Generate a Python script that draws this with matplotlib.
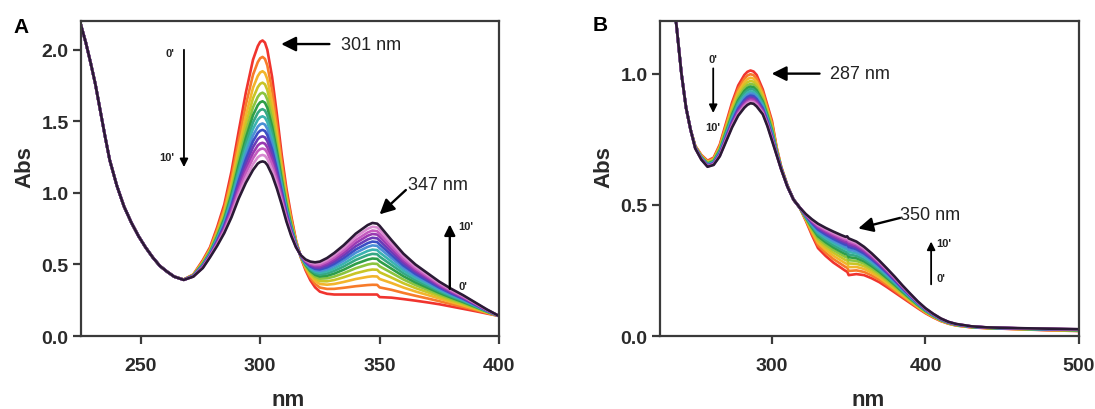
import numpy as np
import matplotlib
matplotlib.use("Agg")
import matplotlib.pyplot as plt
from matplotlib.ticker import FormatStrFormatter

plt.rcParams["font.family"] = ["Liberation Sans", "DejaVu Sans"]

# ---------------- Panel A: 225-400 nm ----------------
wl_a = [225, 227, 229, 231, 233, 235, 237, 240, 243, 246, 249, 252, 255, 258,
        261, 264, 268, 272, 276, 279, 282, 285, 288, 291, 294, 297, 299, 300,
        301, 302, 303, 305, 307, 309, 311, 313, 315, 317, 319, 321, 323, 325,
        328, 331, 335, 340, 345, 347, 349, 350, 355, 360, 365, 370, 375, 380,
        385, 390, 395, 400]
# first scan (0 min)
abs_a_0min = [2.17, 2.05, 1.91, 1.76, 1.58, 1.40, 1.23, 1.05, 0.905, 0.795,
              0.70, 0.62, 0.55, 0.49, 0.45, 0.415, 0.395, 0.43, 0.53, 0.62,
              0.76, 0.92, 1.15, 1.43, 1.70, 1.93, 2.025, 2.055, 2.065, 2.05,
              2.00, 1.81, 1.55, 1.27, 1.03, 0.84, 0.67, 0.55, 0.46, 0.39, 0.34,
              0.31, 0.295, 0.29, 0.29, 0.29, 0.29, 0.29, 0.29, 0.272, 0.268,
              0.258, 0.247, 0.235, 0.222, 0.206, 0.19, 0.174, 0.157, 0.14]
# last scan (10 min)
abs_a_10min = [2.17, 2.05, 1.91, 1.76, 1.58, 1.40, 1.23, 1.05, 0.905, 0.795,
               0.70, 0.62, 0.55, 0.49, 0.45, 0.415, 0.392, 0.415, 0.475, 0.55,
               0.63, 0.72, 0.83, 0.96, 1.07, 1.16, 1.205, 1.216, 1.22, 1.215,
               1.195, 1.125, 1.03, 0.92, 0.80, 0.70, 0.62, 0.565, 0.535, 0.52,
               0.515, 0.52, 0.545, 0.58, 0.635, 0.715, 0.775, 0.79, 0.785, 0.77,
               0.67, 0.575, 0.50, 0.44, 0.38, 0.33, 0.285, 0.235, 0.185, 0.14]
# absorbance at 301 nm of every scan, 0 min -> 10 min
peak_a_301 = [2.065, 1.95, 1.85, 1.77, 1.70, 1.64, 1.585, 1.535, 1.485, 1.44,
              1.395, 1.35, 1.31, 1.265, 1.22]

# ---------------- Panel B: 227-500 nm ----------------
wl_b = [232, 235, 238, 241, 244, 247, 250, 254, 258, 262, 266, 270, 274, 278,
        282, 284, 286, 288, 290, 294, 297, 300, 303, 306, 310, 314, 318, 322,
        326, 330, 335, 340, 345, 348, 349, 350, 355, 360, 365, 370, 375, 380,
        385, 390, 395, 400, 405, 410, 415, 420, 430, 440, 460, 480, 500]
abs_b_0min = [1.50, 1.33, 1.17, 1.00, 0.87, 0.785, 0.725, 0.69, 0.668, 0.68,
              0.73, 0.81, 0.89, 0.955, 0.995, 1.007, 1.012, 1.008, 0.995, 0.94,
              0.88, 0.82, 0.72, 0.645, 0.575, 0.52, 0.49, 0.44, 0.385, 0.335,
              0.305, 0.28, 0.26, 0.248, 0.245, 0.232, 0.236, 0.232, 0.22,
              0.205, 0.186, 0.166, 0.146, 0.126, 0.106, 0.087, 0.071, 0.057,
              0.047, 0.04, 0.033, 0.03, 0.026, 0.022, 0.019]
abs_b_10min = [1.50, 1.33, 1.17, 1.00, 0.87, 0.785, 0.715, 0.672, 0.645, 0.652,
               0.685, 0.74, 0.795, 0.84, 0.87, 0.881, 0.887, 0.885, 0.875,
               0.845, 0.80, 0.745, 0.69, 0.635, 0.57, 0.52, 0.49, 0.465, 0.445,
               0.428, 0.412, 0.398, 0.385, 0.378, 0.38, 0.372, 0.36, 0.34,
               0.315, 0.287, 0.257, 0.226, 0.193, 0.162, 0.132, 0.106, 0.085,
               0.067, 0.054, 0.046, 0.037, 0.033, 0.03, 0.028, 0.026]
# absorbance at 287 nm of every scan, 0 min -> 10 min
peak_b_287 = [1.012, 0.998, 0.985, 0.973, 0.962, 0.952, 0.943, 0.934, 0.926,
              0.918, 0.911, 0.905, 0.899, 0.894, 0.889]

scan_colors = ["#f0342e", "#f77b2a", "#f2b52c", "#c9c526", "#8cc43f",
               "#2f9e48", "#35a883", "#3bb3b0", "#4a8fd6", "#3b4fc4",
               "#6a3cb8", "#9a3ab2", "#c45bbf", "#d88ad0", "#2a1a35"]


def scan_spectra(start, end, peaks):
    """Two-species spectra: each scan weighted by its own peak absorbance."""
    start = np.asarray(start, float)
    end = np.asarray(end, float)
    p0, p1 = peaks[0], peaks[-1]
    return [start + (p0 - p) / (p0 - p1) * (end - start) for p in peaks]


fig = plt.figure(figsize=(10.95, 4.10), dpi=100)
ax_a = fig.add_axes([0.074, 0.178, 0.3817, 0.768])
ax_b = fig.add_axes([0.6027, 0.178, 0.3826, 0.768])

for spec, col in zip(scan_spectra(abs_a_0min, abs_a_10min, peak_a_301), scan_colors):
    ax_a.plot(wl_a, spec, color=col, lw=1.9, solid_joinstyle="round")
for spec, col in zip(scan_spectra(abs_b_0min, abs_b_10min, peak_b_287), scan_colors):
    ax_b.plot(wl_b, spec, color=col, lw=1.9, solid_joinstyle="round")

ax_a.set_xlim(225, 400)
ax_a.set_ylim(0, 2.2)
ax_a.set_xticks([250, 300, 350, 400])
ax_a.set_yticks([0.0, 0.5, 1.0, 1.5, 2.0])
ax_b.set_xlim(227, 500)
ax_b.set_ylim(0, 1.2)
ax_b.set_xticks([300, 400, 500])
ax_b.set_yticks([0.0, 0.5, 1.0])

for ax in (ax_a, ax_b):
    ax.yaxis.set_major_formatter(FormatStrFormatter("%.1f"))
    for s in ax.spines.values():
        s.set_linewidth(1.6)
        s.set_color("#3a3a3a")
    ax.tick_params(direction="out", length=6, width=1.6, color="#3a3a3a",
                   labelsize=14, top=False, right=False)
    ax.tick_params(axis="x", pad=9)
    ax.tick_params(axis="y", pad=3)
    for lbl in ax.get_xticklabels() + ax.get_yticklabels():
        lbl.set_fontweight("bold")
        lbl.set_color("#2a2a2a")
    ax.set_ylabel("Abs", fontsize=16, fontweight="bold", color="#2a2a2a")
    ax.yaxis.set_label_coords(-0.108, 0.54)

fig.text(0.263, 0.01, "nm", fontsize=16, fontweight="bold", color="#2a2a2a",
         ha="center", va="baseline")
fig.text(0.793, 0.01, "nm", fontsize=16, fontweight="bold", color="#2a2a2a",
         ha="center", va="baseline")
fig.text(0.019, 0.932, "A", fontsize=15, fontweight="bold", ha="center", va="center")
fig.text(0.548, 0.937, "B", fontsize=15, fontweight="bold", ha="center", va="center")

big_head = dict(arrowstyle="-|>", lw=1.7, color="black", mutation_scale=22,
                shrinkA=0, shrinkB=0)
small_head = dict(arrowstyle="-|>", lw=1.3, color="black", mutation_scale=12,
                  shrinkA=0, shrinkB=0)
txt = dict(fontsize=13, color="#222222", va="center")
tiny = dict(fontsize=8, color="#222222", fontweight="bold")

# Panel A annotations
ax_a.annotate("", xy=(308.8, 2.04), xytext=(329, 2.04), arrowprops=big_head)
ax_a.text(334, 2.04, "301 nm", ha="left", **txt)
ax_a.annotate("", xy=(350, 0.85), xytext=(361, 1.02), arrowprops=big_head)
ax_a.text(362, 1.06, "347 nm", ha="left", **txt)
ax_a.annotate("", xy=(268.1, 1.18), xytext=(268.1, 2.0), arrowprops=small_head)
ax_a.text(264, 1.98, "0'", ha="right", va="center", **tiny)
ax_a.text(264, 1.25, "10'", ha="right", va="center", **tiny)
ax_a.annotate("", xy=(379.4, 0.78), xytext=(379.4, 0.33),
              arrowprops=dict(big_head, mutation_scale=16))
ax_a.text(383, 0.77, "10'", ha="left", va="center", **tiny)
ax_a.text(383, 0.35, "0'", ha="left", va="center", **tiny)

# Panel B annotations
ax_b.annotate("", xy=(299.8, 1.0), xytext=(331, 1.0), arrowprops=big_head)
ax_b.text(337.7, 1.0, "287 nm", ha="left", **txt)
ax_b.annotate("", xy=(356.2, 0.41), xytext=(383.4, 0.45), arrowprops=big_head)
ax_b.text(383.4, 0.462, "350 nm", ha="left", **txt)
ax_b.annotate("", xy=(261.7, 0.85), xytext=(261.7, 1.02), arrowprops=small_head)
ax_b.text(261.7, 1.055, "0'", ha="center", va="center", **tiny)
ax_b.text(261.7, 0.795, "10'", ha="center", va="center", **tiny)
ax_b.annotate("", xy=(403.7, 0.36), xytext=(403.7, 0.197), arrowprops=small_head)
ax_b.text(407, 0.356, "10'", ha="left", va="center", **tiny)
ax_b.text(407, 0.223, "0'", ha="left", va="center", **tiny)

fig.savefig("out.png", dpi=100)
